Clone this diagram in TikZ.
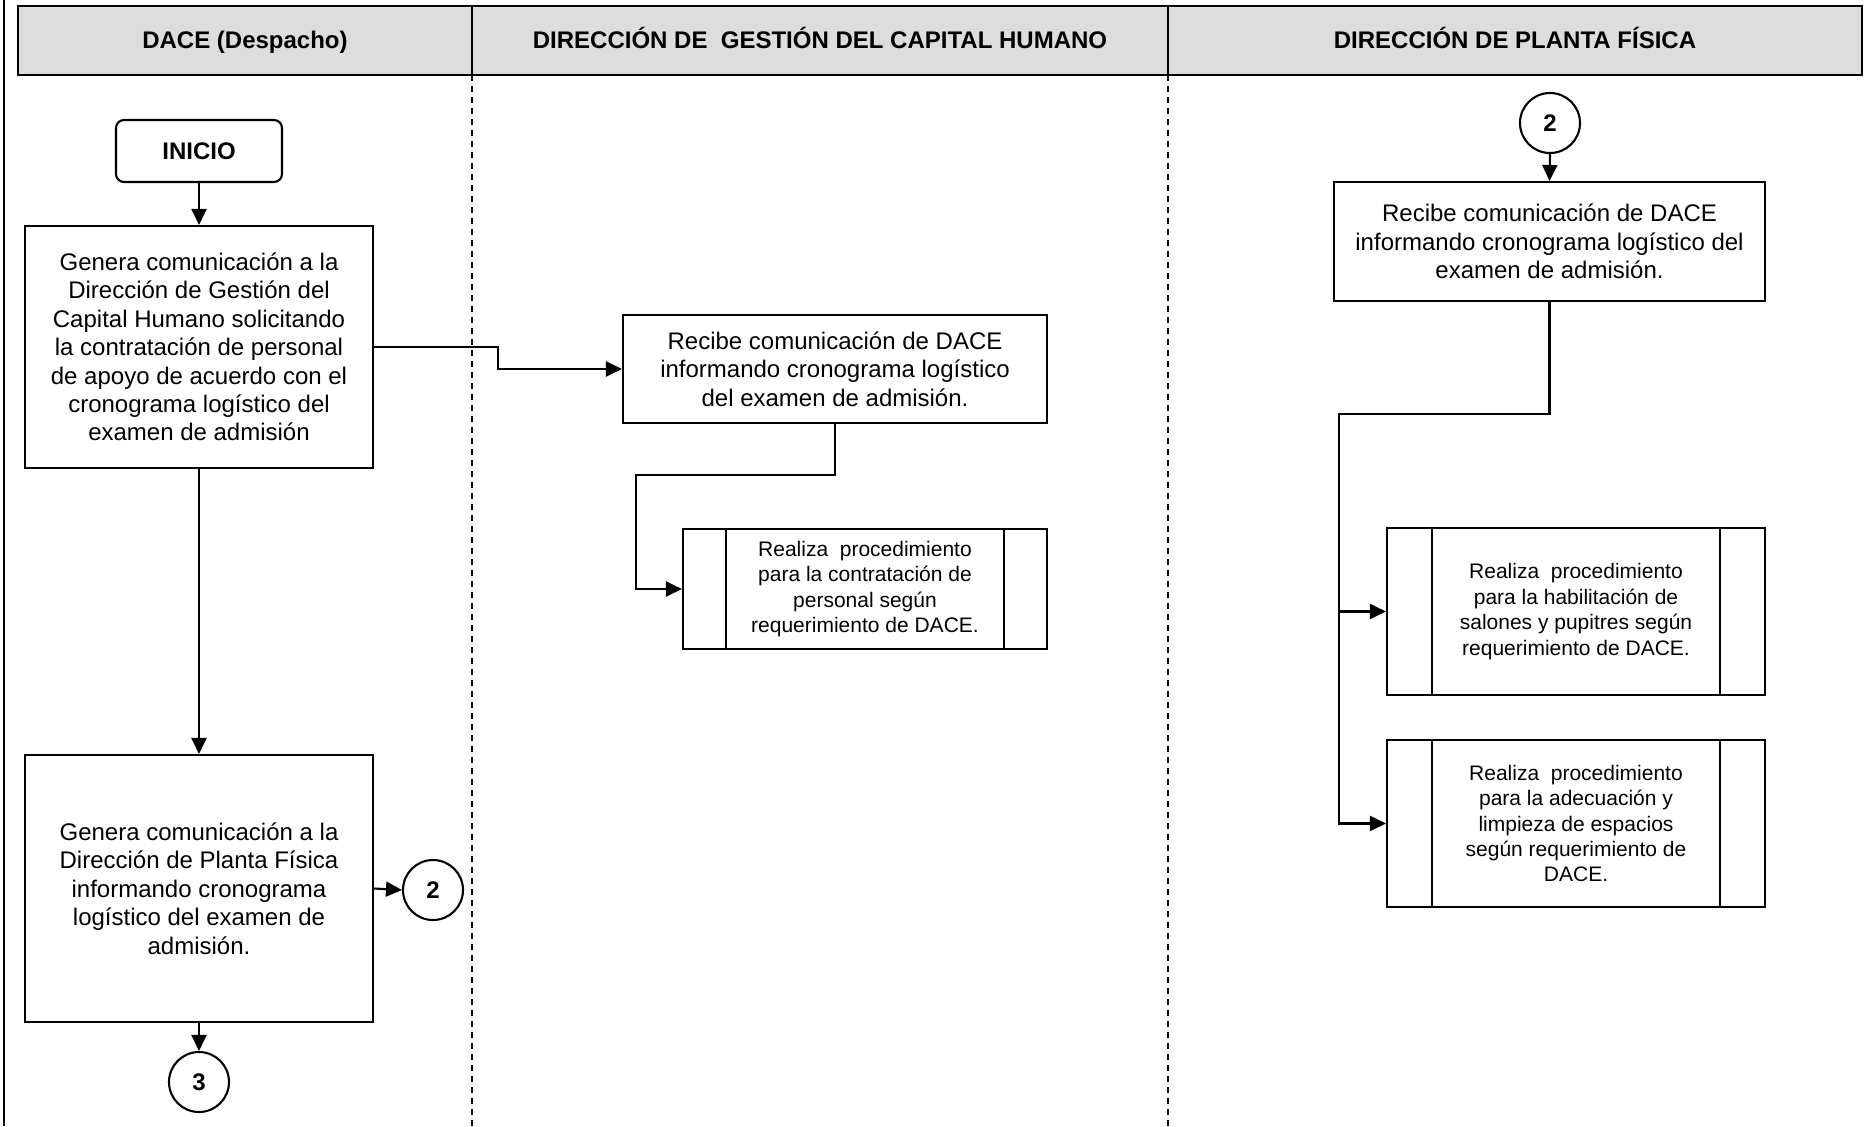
\documentclass[tikz,border=0pt]{standalone}
\usepackage{fontspec}
\setmainfont{Liberation Sans}
\usetikzlibrary{arrows.meta,calc}
\definecolor{headgray}{RGB}{221,221,221}
\begin{document}
\begin{tikzpicture}[x=0.5pt,y=-0.5pt,
  line width=1.05pt,
  arr/.style={-{Triangle[length=8pt,width=7.5pt]}},
  procbox/.style={draw, rectangle, align=center, inner sep=0pt, font=\fontsize{12}{14.2}\selectfont},
  subbox/.style={draw, rectangle, align=center, inner sep=0pt, font=\fontsize{10.5}{12.7}\selectfont},
  conn/.style={draw, circle, minimum size=30pt, inner sep=0pt, font=\bfseries\fontsize{12}{14}\selectfont},
  headtxt/.style={anchor=base, font=\bfseries\fontsize{12}{14}\selectfont},
  lanesep/.style={line width=0.75pt, dash pattern=on 3pt off 2.5pt}
]
\useasboundingbox (0,0) rectangle (1875,1126);

% frame and header
\draw[line width=1.1pt] (4,0) -- (4,1126);
\draw[line width=1.4pt, fill=headgray] (18,6) rectangle (1862,75);
\draw[line width=1.1pt] (472,6) -- (472,75);
\draw[line width=1.1pt] (1168,6) -- (1168,75);
\draw[lanesep] (472,75) -- (472,1126);
\draw[lanesep] (1168,75) -- (1168,1126);
\node[headtxt] (h1) at (245,48) {DACE (Despacho)};
\node[headtxt] (h2) at (820,48) {DIRECCIÓN DE\ \ GESTIÓN DEL CAPITAL HUMANO};
\node[headtxt] (h3) at (1515,48) {DIRECCIÓN DE PLANTA FÍSICA};

% lane 1
\node[procbox, rounded corners=4pt, minimum width=83pt, minimum height=31pt, font=\bfseries\fontsize{12}{14}\selectfont] (ini) at (199,151) {INICIO};
\node[procbox, minimum width=174pt, minimum height=121pt] (b1) at (199,347)
  {Genera comunicación a la\\Dirección de Gestión del\\Capital Humano solicitando\\la contratación de personal\\de apoyo de acuerdo con el\\cronograma logístico del\\examen de admisión};
\node[procbox, minimum width=174pt, minimum height=133.5pt] (b3) at (199,888.5)
  {Genera comunicación a la\\Dirección de Planta Física\\informando cronograma\\logístico del examen de\\admisión.};
\node[conn] (c2a) at (433,890) {2};
\node[conn] (c3) at (199,1082) {3};

% lane 2
\node[procbox, minimum width=212pt, minimum height=54pt] (b2) at (835,369)
  {Recibe comunicación de DACE\\informando cronograma logístico\\del examen de admisión.};
\node[subbox, minimum width=182pt, minimum height=60pt] (s1) at (865,589)
  {Realiza\ \ procedimiento\\para la contratación de\\personal según\\requerimiento de DACE.};
\draw ([xshift=22pt]s1.north west) -- ([xshift=22pt]s1.south west);
\draw ([xshift=-22pt]s1.north east) -- ([xshift=-22pt]s1.south east);

% lane 3
\node[conn] (c2b) at (1550,123) {2};
\node[procbox, minimum width=215.5pt, minimum height=59.5pt] (b4) at (1549.5,241.5)
  {Recibe comunicación de DACE\\informando cronograma logístico del\\examen de admisión.};
\node[subbox, minimum width=189pt, minimum height=83.5pt] (s2) at (1576,611.5)
  {Realiza\ \ procedimiento\\para la habilitación de\\salones y pupitres según\\requerimiento de DACE.};
\draw ([xshift=23pt]s2.north west) -- ([xshift=23pt]s2.south west);
\draw ([xshift=-23pt]s2.north east) -- ([xshift=-23pt]s2.south east);
\node[subbox, minimum width=189pt, minimum height=83.5pt] (s3) at (1576,823.5)
  {Realiza\ \ procedimiento\\para la adecuación y\\limpieza de espacios\\según requerimiento de\\DACE.};
\draw ([xshift=23pt]s3.north west) -- ([xshift=23pt]s3.south west);
\draw ([xshift=-23pt]s3.north east) -- ([xshift=-23pt]s3.south east);

% connectors
\coordinate (j1) at (498,347);
\coordinate (j2) at (636,475);
\coordinate (j3) at (1339,414);
\draw[arr] (ini.south) -- (b1.north);
\draw[arr] (b1.east) -- (j1) |- (b2.west);
\draw[arr] (b2.south) |- (j2) |- (s1.west);
\draw[arr] (b1.south) -- (b3.north);
\draw[arr] (b3.east) -- (c2a.west);
\draw[arr] (b3.south) -- (c3.north);
\draw[arr] (c2b.south) -- (b4.north);
\draw[arr] (b4.south) |- (j3) |- (s3.west);
\draw[arr] (j3) |- (s2.west);
\end{tikzpicture}
\end{document}
